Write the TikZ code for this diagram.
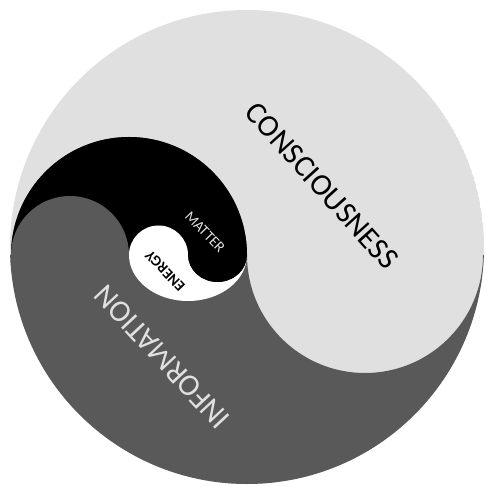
\documentclass[tikz,border=0pt]{standalone}
\usepackage{fontspec}
\setsansfont{Carlito}
\definecolor{ygLight}{HTML}{E0E0E0}
\definecolor{ygDark}{HTML}{595959}

\begin{document}
\begin{tikzpicture}[scale=0.02,font=\sffamily,
  bigword/.style={font=\sffamily\fontsize{17.5}{17.5}\selectfont},
  smallword/.style={font=\sffamily\fontsize{8.5}{8.5}\selectfont}]
  \useasboundingbox (-247,-240) rectangle (238,247);
  \def\R{237}
  \def\ry{-8}
  \begin{scope}
    \clip (0,0) circle (\R);
    \fill[ygLight] (0,0) circle (\R);
    \fill[ygDark] (-236,\ry) arc[start angle=180,end angle=0,radius=118]
      arc[start angle=180,end angle=360,radius=118]
      -- (250,\ry) -- (250,-250) -- (-250,-250) -- (-250,\ry) -- cycle;
    % inner turn
    \fill[black] (-236,\ry) arc[start angle=180,end angle=0,radius=118] -- cycle;
    \fill[ygDark] (-236,\ry) arc[start angle=180,end angle=0,radius=59] -- cycle;
    % innermost turn
    \fill[white] (-118,\ry) arc[start angle=180,end angle=360,x radius=59,y radius=46]
      arc[start angle=0,end angle=-180,x radius=29.5,y radius=27]
      arc[start angle=0,end angle=180,radius=29.5] -- cycle;
    \fill[black] (0,\ry) arc[start angle=0,end angle=-180,x radius=29.5,y radius=27] -- cycle;
  \end{scope}
  \node[bigword,rotate=-48] (consc) at (75,61) {CONSCIOUSNESS};
  \node[bigword,text=ygLight,rotate=133] (info) at (-85,-110) {INFORMATION};
  \node[smallword,text=ygLight,rotate=-46] (matter) at (-42,15) {MATTER};
  \node[smallword,font=\sffamily\bfseries\fontsize{8.5}{8.5}\selectfont,rotate=134] (energy) at (-82,-24) {ENERGY};
\end{tikzpicture}
\end{document}
